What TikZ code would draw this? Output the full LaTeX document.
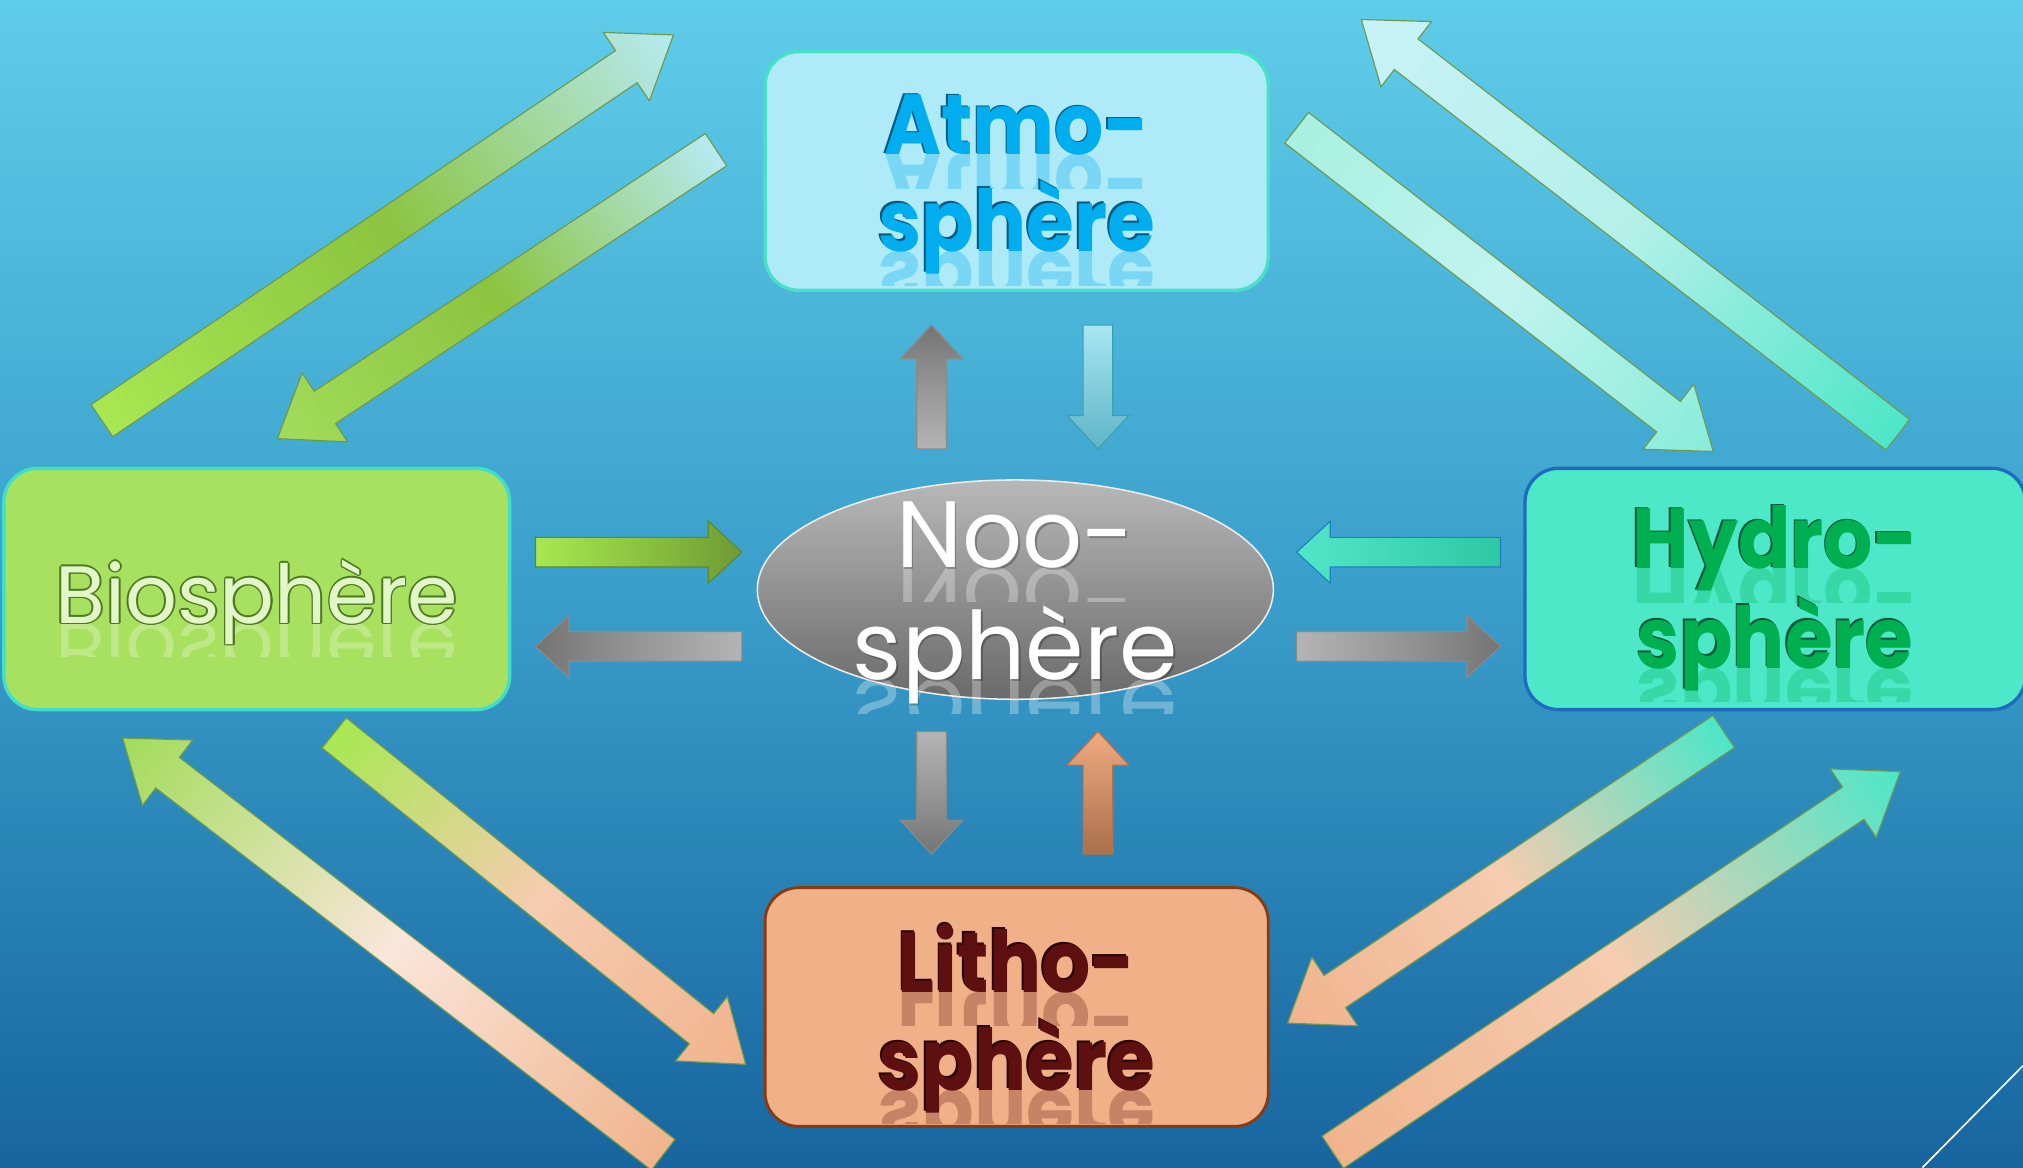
\documentclass[tikz,border=0pt]{standalone}
\usepackage{fontspec}
\setmainfont{Poppins}
\usepackage{graphicx}
\usetikzlibrary{shapes.geometric,calc}

\definecolor{bgTop}{HTML}{5ECDE9}
\definecolor{bgMid}{HTML}{3A9FCB}
\definecolor{bgBot}{HTML}{17659F}
\definecolor{atmoFill}{HTML}{AEEAF8}
\definecolor{atmoLine}{HTML}{48E0C8}
\definecolor{atmoText}{HTML}{00AEEF}
\definecolor{atmoEdge}{HTML}{0A5A80}
\definecolor{bioFill}{HTML}{A8E060}
\definecolor{bioLine}{HTML}{40E0C8}
\definecolor{bioText}{HTML}{E2F6C8}
\definecolor{bioEdge}{HTML}{4C7A22}
\definecolor{hydFill}{HTML}{4DE8C8}
\definecolor{hydLine}{HTML}{1E6CC0}
\definecolor{hydText}{HTML}{00B050}
\definecolor{hydEdge}{HTML}{06583A}
\definecolor{litFill}{HTML}{F0B088}
\definecolor{litLine}{HTML}{8B3A10}
\definecolor{litText}{HTML}{5E1010}
\definecolor{litEdge}{HTML}{2A0404}
\definecolor{nooTop}{HTML}{B8B8B8}
\definecolor{nooBot}{HTML}{6A6A6A}
\definecolor{grLight}{HTML}{B4B4B4}
\definecolor{grMid}{HTML}{969696}
\definecolor{grDark}{HTML}{747474}
\definecolor{grLine}{HTML}{8A8A8A}
\definecolor{arrLine}{HTML}{6E9A50}
\definecolor{gBright}{HTML}{A8E852}
\definecolor{gMid}{HTML}{8CC43F}
\definecolor{gTip}{HTML}{A2DC5A}
\definecolor{gDark}{HTML}{6E9A35}
\definecolor{gLine}{HTML}{5A8A2A}
\definecolor{cLight}{HTML}{B6EAF2}
\definecolor{cPale}{HTML}{C8F2F8}
\definecolor{aqTail}{HTML}{A8F0E0}
\definecolor{aqMid}{HTML}{C2F4EE}
\definecolor{aqTip}{HTML}{88ECD8}
\definecolor{aqDeep}{HTML}{4DE6C8}
\definecolor{aqHalf}{HTML}{B4F0E8}
\definecolor{peach}{HTML}{F0B48C}
\definecolor{peachMid}{HTML}{F6CCB0}
\definecolor{peachPale}{HTML}{FAE6DA}
\definecolor{cyTail}{HTML}{A8E6F2}
\definecolor{cyTip}{HTML}{5EB4C6}
\definecolor{cyLine}{HTML}{3AA0B0}
\definecolor{tlTail}{HTML}{2EC8A4}
\definecolor{tlTip}{HTML}{52E6C8}
\definecolor{tlLine}{HTML}{2080C0}
\definecolor{orTail}{HTML}{A8704C}
\definecolor{orTip}{HTML}{F0AA80}
\definecolor{orLine}{HTML}{C07040}

\newcommand\fontBold{\bfseries\fontsize{66}{75}\selectfont}
\newcommand\fontNoo{\fontsize{73}{87}\selectfont}
\newcommand\fontBio{\fontsize{63}{70}\selectfont}

% block arrow: #1 from, #2 to, #3 tail, #4 mid, #5 tip colour, #6 half shaft, #7 half head, #8 head length, #9 border
\newcommand\blockarrow[9]{%
  \pgfpointdiff{\pgfpointanchor{#1}{center}}{\pgfpointanchor{#2}{center}}%
  \pgfgetlastxy{\bdx}{\bdy}%
  \pgfmathsetmacro\bang{atan2(\bdy,\bdx)}%
  \pgfmathsetmacro\blen{veclen(\bdx,\bdy)}%
  \pgfmathsetmacro\bneck{\blen-#8}%
  \begin{scope}[transform canvas={shift={(#1)},rotate=\bang}]
    \path[draw=#9, line width=0.9pt, left color=#3, right color=#5, middle color=#4]
      (0,-#6) -- (\bneck,-#6) -- (\bneck,-#7) -- (\blen,0) -- (\bneck,#7) -- (\bneck,#6) -- (0,#6) -- cycle;
  \end{scope}}

% reflection: #1 name, #2 x, #3 y, #4 text, #5 colour, #6 font, #7 opacity, #8 horizontal scale
\newcommand\reflectline[8]{%
  \begin{scope}
    \clip (#2-260,#3) rectangle (#2+260,#3+26);
    \node[txt,font=#6,text=#5,text opacity=#7,fill opacity=#7] (#1) at (#2,#3) {\scalebox{#8}[-1]{#4}};
  \end{scope}}

% embossed line: #1 name, #2 x, #3 y, #4 text, #5 colour, #6 edge colour
\newcommand\embline[6]{%
  \node[txt,font=\fontBold,text=#6] (#1e) at (#2-1.3,#3-1.3) {\scalebox{0.91}[1]{#4}};
  \node[txt,font=\fontBold,text=#5] (#1) at (#2,#3) {\scalebox{0.91}[1]{#4}};}

\tikzset{
  box/.style={rounded corners=26pt, line width=2.6pt, inner sep=0pt},
  txt/.style={anchor=base, inner sep=0pt, outer sep=0pt},
}

\begin{document}
\begin{tikzpicture}[x=1pt,y=-1pt]
\useasboundingbox (0,0) rectangle (1568,905);
\clip (0,0) rectangle (1568,905);
\shade[top color=bgTop, bottom color=bgBot, middle color=bgMid] (0,0) rectangle (1568,905);

% ---------- boxes ----------
\node[box, fill=atmoFill, draw=atmoLine, minimum width=390pt, minimum height=185pt] (atmo) at (788,132.5) {};
\node[box, fill=bioFill, draw=bioLine, minimum width=392pt, minimum height=187pt] (bio) at (199,456.5) {};
\node[box, fill=hydFill, draw=hydLine, minimum width=388pt, minimum height=187pt] (hydro) at (1376,456.5) {};
\node[box, fill=litFill, draw=litLine, line width=2.2pt, minimum width=390pt, minimum height=185pt] (litho) at (788,780.5) {};
\node[ellipse, top color=nooTop, bottom color=nooBot, draw=white!85!gray, line width=1.2pt,
      minimum width=400pt, minimum height=170pt, inner sep=0pt] (noo) at (787,457) {};

% ---------- reflections ----------
\reflectline{atmoR1}{788}{120}{Atmo-}{atmoText}{\fontBold}{0.3}{0.91}
\reflectline{atmoR2}{788}{195}{sphère}{atmoText}{\fontBold}{0.3}{0.91}
\reflectline{hydR1}{1376}{441}{Hydro-}{hydText}{\fontBold}{0.28}{0.91}
\reflectline{hydR2}{1376}{518}{sphère}{hydText}{\fontBold}{0.28}{0.91}
\reflectline{litR1}{788}{769}{Litho-}{litText}{\fontBold}{0.28}{0.91}
\reflectline{litR2}{788}{845}{sphère}{litText}{\fontBold}{0.28}{0.91}
\reflectline{nooR1}{787}{440}{Noo-}{white}{\fontNoo}{0.3}{1}
\reflectline{nooR2}{787}{527}{sphère}{white}{\fontNoo}{0.3}{1}
\reflectline{bioR}{199}{483}{Biosphère}{bioText}{\fontBio}{0.4}{1}

% ---------- texts ----------
\embline{atmoT1}{788}{120}{Atmo-}{atmoText}{atmoEdge}
\embline{atmoT2}{788}{195}{sphère}{atmoText}{atmoEdge}
\embline{hydT1}{1376}{441}{Hydro-}{hydText}{hydEdge}
\embline{hydT2}{1376}{518}{sphère}{hydText}{hydEdge}
\embline{litT1}{788}{769}{Litho-}{litText}{litEdge}
\embline{litT2}{788}{845}{sphère}{litText}{litEdge}
\node[txt,font=\fontNoo,text=black,text opacity=0.25] (nooS1) at (788.5,441.5) {Noo-};
\node[txt,font=\fontNoo,text=black,text opacity=0.25] (nooS2) at (788.5,528.5) {sphère};
\node[txt,font=\fontNoo,text=white] (nooT1) at (787,440) {Noo-};
\node[txt,font=\fontNoo,text=white] (nooT2) at (787,527) {sphère};
\foreach \dx/\dy [count=\i] in {1.3/0,-1.3/0,0/1.3,0/-1.3,0.9/0.9,-0.9/0.9,0.9/-0.9,-0.9/-0.9}{
  \node[txt,font=\fontBio,text=bioEdge] (bioO\i) at (199+\dx,483+\dy) {Biosphère};
}
\node[txt,font=\fontBio,text=bioText] (bioT) at (199,483) {Biosphère};

% ---------- arrow end points ----------
\coordinate (ba1) at (79,326);   \coordinate (ba2) at (522,27);
\coordinate (ab1) at (555,116);  \coordinate (ab2) at (215,340);
\coordinate (ah1) at (1005,99);  \coordinate (ah2) at (1328,350);
\coordinate (ha1) at (1471,337); \coordinate (ha2) at (1055,15);
\coordinate (bl1) at (259,568);  \coordinate (bl2) at (578,825);
\coordinate (lb1) at (514,895);  \coordinate (lb2) at (95,572);
\coordinate (hl1) at (1336,567); \coordinate (hl2) at (998,793);
\coordinate (lh1) at (1033,893); \coordinate (lh2) at (1473,598);

\coordinate (na1) at (722,348);  \coordinate (na2) at (722,252);
\coordinate (an1) at (851,252);  \coordinate (an2) at (851,348);
\coordinate (bn1) at (415,428);  \coordinate (bn2) at (575,428);
\coordinate (nb1) at (575,501);  \coordinate (nb2) at (415,501);
\coordinate (hn1) at (1163,428); \coordinate (hn2) at (1005,428);
\coordinate (nh1) at (1005,501); \coordinate (nh2) at (1163,501);
\coordinate (nl1) at (722,567);  \coordinate (nl2) at (722,662);
\coordinate (ln1) at (851,662);  \coordinate (ln2) at (851,567);

% ---------- diagonal arrows ----------
\blockarrow{ba1}{ba2}{gBright}{gMid}{cLight}{15}{32}{44}{arrLine}
\blockarrow{ab1}{ab2}{cLight}{gMid}{gTip}{15}{32}{44}{arrLine}
\blockarrow{ah1}{ah2}{aqTail}{aqMid}{aqTip}{15}{32}{44}{arrLine}
\blockarrow{ha1}{ha2}{aqDeep}{aqHalf}{cPale}{15}{32}{44}{arrLine}
\blockarrow{bl1}{bl2}{gBright}{peachMid}{peach}{15}{32}{44}{arrLine}
\blockarrow{lb1}{lb2}{peach}{peachPale}{gTip}{15}{32}{44}{arrLine}
\blockarrow{hl1}{hl2}{aqDeep}{peachMid}{peach}{15}{32}{44}{arrLine}
\blockarrow{lh1}{lh2}{peach}{peachMid}{aqDeep}{15}{32}{44}{arrLine}

% ---------- small arrows ----------
\blockarrow{na1}{na2}{grLight}{grMid}{grDark}{11.5}{24}{26}{grLine}
\blockarrow{an1}{an2}{cyTail}{cyTail!50!cyTip}{cyTip}{11.5}{24}{26}{cyLine}
\blockarrow{bn1}{bn2}{gBright}{gMid}{gDark}{11.5}{24}{26}{gLine}
\blockarrow{nb1}{nb2}{grLight}{grMid}{grDark}{11.5}{24}{26}{grLine}
\blockarrow{hn1}{hn2}{tlTail}{tlTail!50!tlTip}{tlTip}{11.5}{24}{26}{tlLine}
\blockarrow{nh1}{nh2}{grLight}{grMid}{grDark}{11.5}{24}{26}{grLine}
\blockarrow{nl1}{nl2}{grLight}{grMid}{grDark}{11.5}{24}{26}{grLine}
\blockarrow{ln1}{ln2}{orTail}{orTail!50!orTip}{orTip}{11.5}{24}{26}{orLine}

% ---------- corner line ----------
\coordinate (cl1) at (1490,905); \coordinate (cl2) at (1568,826);
\draw[white, line width=1.3pt] (cl1) -- (cl2);
\end{tikzpicture}
\end{document}
